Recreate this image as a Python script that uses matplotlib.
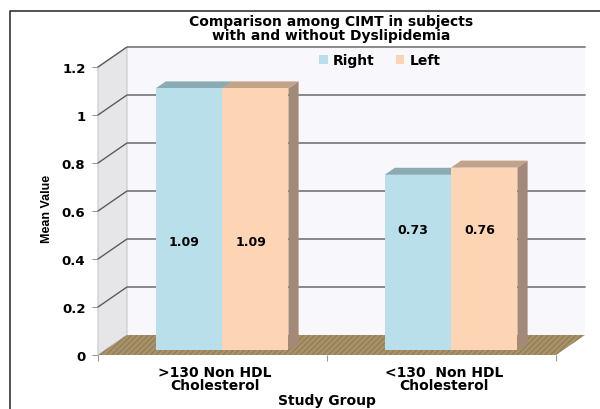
import matplotlib

matplotlib.use("Agg")
import matplotlib.pyplot as plt  # noqa: E402
from matplotlib.lines import Line2D  # noqa: E402
from matplotlib.patches import Polygon  # noqa: E402
from matplotlib.transforms import IdentityTransform, offset_copy  # noqa: E402

groups = [">130 Non HDL\nCholesterol", "<130  Non HDL\nCholesterol"]
series = ["Right", "Left"]
right_vals = [1.09, 0.73]
left_vals = [1.09, 0.76]
yticks = [0, 0.2, 0.4, 0.6, 0.8, 1, 1.2]
ytick_labels = ["0", "0.2", "0.4", "0.6", "0.8", "1", "1.2"]

# face colours: front, top, side
colors = {
    "Right": ("#b9e0ea", "#8aabb4", "#8aa4aa"),
    "Left": ("#fdd5b4", "#c2a389", "#a38977"),
}

W, H = 600, 410
DX, DY = 29, 20          # full floor depth in pixels
BAR_D0, BAR_D1 = 0.25, 0.6
BAR_W = 0.29
CENTERS = [0.51, 1.51]

plt.rcParams["font.family"] = ["DejaVu Sans"]
plt.rcParams["font.weight"] = "bold"
plt.rcParams["hatch.linewidth"] = 0.6

fig = plt.figure(figsize=(W / 100, H / 100), dpi=100)
ax = fig.add_axes([98 / W, 54 / H, 458 / W, 288 / H])
ax.set_xlim(0, 2)
ax.set_ylim(0, 1.2)
for s in ax.spines.values():
    s.set_visible(False)
ax.patch.set_visible(False)


def pt(x, y, d=0.0):
    px, py = ax.transData.transform((x, y))
    return (px + d * DX, py + d * DY)


def face(points, z, **kw):
    ax.add_patch(Polygon(points, closed=True, transform=IdentityTransform(),
                         clip_on=False, zorder=z, **kw))


# walls and floor
face([pt(0, 0, 1), pt(2, 0, 1), pt(2, 1.2, 1), pt(0, 1.2, 1)], 0,
     facecolor="#f8f7fb", edgecolor="none")
face([pt(0, 0, 0), pt(0, 0, 1), pt(0, 1.2, 1), pt(0, 1.2, 0)], 0,
     facecolor="#e6e6e9", edgecolor="#c8c8cc", lw=0.8)
face([pt(0, 0, 0), pt(2, 0, 0), pt(2, 0, 1), pt(0, 0, 1)], 0.5,
     facecolor="#a69168", edgecolor="#8a7650", hatch="//////", lw=0)

for v in yticks[1:]:
    xs, ys = zip(pt(0, v, 0), pt(0, v, 1), pt(2, v, 1))
    ax.add_line(Line2D(xs, ys, transform=IdentityTransform(), color="#5c5c5c",
                       lw=1, clip_on=False, zorder=1))

# 3-D bars: front face through the axes, top and side faces from the same values
front_tr = offset_copy(ax.transData, fig=fig, x=BAR_D0 * DX, y=BAR_D0 * DY, units="dots")
z = 2
handles = []
for i, c in enumerate(CENTERS):
    for name, vals, x0 in (("Right", right_vals, c - BAR_W), ("Left", left_vals, c)):
        h = vals[i]
        fc, tc, sc = colors[name]
        x1 = x0 + BAR_W
        face([pt(x1, 0, BAR_D0), pt(x1, 0, BAR_D1), pt(x1, h, BAR_D1), pt(x1, h, BAR_D0)], z,
             facecolor=sc, edgecolor="none")
        face([pt(x0, h, BAR_D0), pt(x1, h, BAR_D0), pt(x1, h, BAR_D1), pt(x0, h, BAR_D1)], z,
             facecolor=tc, edgecolor="none")
        b = ax.bar(x0, h, BAR_W, align="edge", color=fc, transform=front_tr,
                   clip_on=False, zorder=z + 0.5, label=name)
        if i == 0:
            handles.append(b)
        z += 1

# value labels on the front faces
label_y = [0.45, 0.5]
for i, c in enumerate(CENTERS):
    for vals, xc in ((right_vals, c - BAR_W / 2), (left_vals, c + BAR_W / 2)):
        ax.text(xc - 0.02, label_y[i], f"{vals[i]:.2f}", transform=front_tr,
                ha="center", va="center", fontsize=9, fontweight="bold", zorder=20)

# axes ticks
ax.set_yticks(yticks, ytick_labels)
ax.tick_params(axis="y", length=4, color="#999999", pad=5, labelsize=9.5)
ax.set_xticks([0, 1, 2], ["", "", ""])
ax.tick_params(axis="x", which="major", length=4, color="#999999")
ax.set_xticks(CENTERS, groups, minor=True)
ax.tick_params(axis="x", which="minor", length=0, pad=7, labelsize=10)
for t in ax.get_xticklabels(minor=True):
    t.set_linespacing(0.9)

fig.text(47 / W, 1 - 209 / H, "Mean Value", rotation=90, ha="center", va="center",
         fontsize=9, family=["Liberation Sans"])
fig.text(327 / W, 1 - 401 / H, "Study Group", ha="center", va="center", fontsize=10)
fig.text(331 / W, 1 - 29 / H, "Comparison among CIMT in subjects\nwith and without Dyslipidemia",
         ha="center", va="center", fontsize=10, linespacing=1.05)

fig.legend(handles=handles, labels=series, loc="center", bbox_to_anchor=(380 / W, 1 - 61 / H),
           ncol=2, frameon=False, handlelength=0.6, handleheight=0.6, handletextpad=0.4,
           columnspacing=1.5, fontsize=10)

# outer frame (left and top edges)
fig.add_artist(Line2D([10 / W, 10 / W, 1], [0, 1 - 12 / H, 1 - 12 / H],
                      transform=fig.transFigure, color="#333333", lw=1.2))

fig.savefig("out.png", dpi=100, facecolor="white")
